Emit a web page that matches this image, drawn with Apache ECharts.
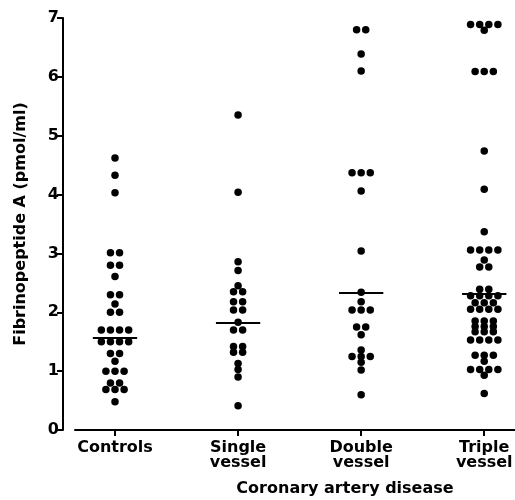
<!DOCTYPE html>
<html>
<head>
<meta charset="utf-8">
<script src="https://cdn.jsdelivr.net/npm/echarts@6/dist/echarts.min.js"></script>
<style>html,body{margin:0;padding:0;background:#fff;}#c{width:515px;height:500px;}</style>
</head>
<body>
<div id="c"></div>
<script>
const categories = ['Controls', 'Single\nvessel', 'Double\nvessel', 'Triple\nvessel'];
const controls = [4.62, 4.33, 4.03, 3.01, 3.01, 2.80, 2.80, 2.61, 2.30, 2.30, 2.14, 2.0, 2.0,
  1.70, 1.70, 1.70, 1.70, 1.50, 1.50, 1.50, 1.50, 1.30, 1.30, 1.17, 1.0, 1.0, 1.0,
  0.80, 0.80, 0.69, 0.69, 0.69, 0.48];
const single = [5.35, 4.04, 2.86, 2.71, 2.45, 2.35, 2.35, 2.18, 2.18, 2.04, 2.04, 1.83,
  1.70, 1.70, 1.42, 1.42, 1.32, 1.32, 1.13, 1.03, 0.90, 0.41];
const double = [6.80, 6.80, 6.39, 6.10, 4.37, 4.37, 4.37, 4.06, 3.04, 2.34, 2.18,
  2.04, 2.04, 2.04, 1.75, 1.75, 1.62, 1.36, 1.25, 1.25, 1.25, 1.15, 1.02, 0.60];
const triple = [6.89, 6.89, 6.89, 6.89, 6.79, 6.09, 6.09, 6.09, 4.74, 4.09, 3.37,
  3.06, 3.06, 3.06, 3.06, 2.89, 2.77, 2.77, 2.39, 2.39, 2.28, 2.28, 2.28, 2.28,
  2.16, 2.16, 2.16, 2.05, 2.05, 2.05, 2.05, 1.85, 1.85, 1.85, 1.76, 1.76, 1.76,
  1.67, 1.67, 1.67, 1.53, 1.53, 1.53, 1.53, 1.27, 1.27, 1.27, 1.17,
  1.03, 1.03, 1.03, 1.03, 0.93, 0.62];
const medians = [1.57, 1.83, 2.34, 2.32];
const yTicks = [0, 1, 2, 3, 4, 5, 6, 7];

const groups = [controls, single, double, triple];
const SPREAD = 0.074;   // horizontal spacing of tied dots, in x units
const HALF = 0.18;      // half width of median bar, in x units

function spread(vals, pos) {
  const counts = {}, seen = {};
  vals.forEach(v => counts[v] = (counts[v] || 0) + 1);
  return vals.map(v => {
    const i = seen[v] || 0; seen[v] = i + 1;
    return [pos + (i - (counts[v] - 1) / 2) * SPREAD, v];
  });
}

const font = 'DejaVu Sans';
const series = groups.map((g, k) => ({
  type: 'scatter',
  data: spread(g, k + 1),
  symbolSize: 7.5,
  itemStyle: { color: '#000', opacity: 1 },
  silent: true,
  markLine: {
    silent: true,
    symbol: 'none',
    label: { show: false },
    lineStyle: { color: '#000', width: 2, type: 'solid', opacity: 1 },
    data: [[{ coord: [k + 1 - HALF, medians[k]] }, { coord: [k + 1 + HALF, medians[k]] }]]
  }
}));

const chart = echarts.init(document.getElementById('c'), null, { renderer: 'canvas' });
chart.setOption({
  backgroundColor: '#fff',
  animation: false,
  grid: { left: 75, right: 0, top: 18, bottom: 70, outerBoundsMode: 'none', containLabel: false },
  xAxis: {
    type: 'value', min: 0.675, max: 4.25,
    splitLine: { show: false },
    axisLine: { show: true, lineStyle: { color: '#000', width: 2 } },
    axisTick: { show: true, customValues: [1, 2, 3, 4], length: 6, lineStyle: { color: '#000', width: 2 } },
    axisLabel: {
      customValues: [1, 2, 3, 4],
      formatter: v => categories[Math.round(v) - 1],
      color: '#000', fontFamily: font, fontWeight: 'bold', fontSize: 16, lineHeight: 15, margin: 10
    },
    name: 'Coronary artery disease',
    nameLocation: 'middle', nameGap: 51,
    nameTextStyle: { color: '#000', fontFamily: font, fontWeight: 'bold', fontSize: 16, padding: [0, 0, 0, 100] }
  },
  yAxis: {
    type: 'value', min: yTicks[0], max: yTicks[yTicks.length - 1], interval: 1,
    offset: 12,
    splitLine: { show: false },
    axisLine: { show: true, lineStyle: { color: '#000', width: 2 } },
    axisTick: { show: true, length: 6, lineStyle: { color: '#000', width: 2 } },
    axisLabel: { color: '#000', fontFamily: font, fontWeight: 'bold', fontSize: 16, margin: 4 },
    name: 'Fibrinopeptide A (pmol/ml)',
    nameLocation: 'middle', nameGap: 34, nameRotate: 90,
    nameTextStyle: { color: '#000', fontFamily: font, fontWeight: 'bold', fontSize: 16 }
  },
  series: series
});
</script>
</body>
</html>
